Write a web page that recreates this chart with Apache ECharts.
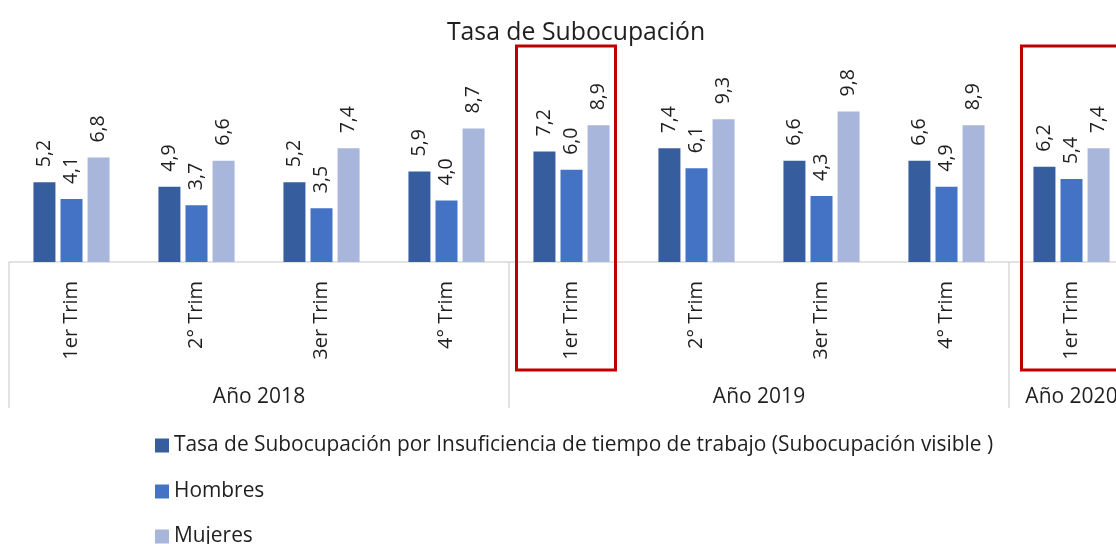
<!DOCTYPE html>
<html>
<head>
<meta charset="utf-8">
<script src="https://cdn.jsdelivr.net/npm/echarts@6/dist/echarts.min.js"></script>
<style>
  html, body { margin: 0; padding: 0; background: #fff; }
  #chart { width: 1116px; height: 544px; }
</style>
</head>
<body>
<div id="chart"></div>
<script>
const quarters = ['1er Trim', '2° Trim', '3er Trim', '4° Trim', '1er Trim', '2° Trim', '3er Trim', '4° Trim', '1er Trim'];
const years = ['Año 2018', 'Año 2019', 'Año 2020'];
const yearSpans = [4, 4, 1];
const seriesNames = [
  'Tasa de Subocupación por Insuficiencia de tiempo de trabajo (Subocupación visible )',
  'Hombres',
  'Mujeres',
];
const totalValues = [5.2, 4.9, 5.2, 5.9, 7.2, 7.4, 6.6, 6.6, 6.2];
const menValues = [4.1, 3.7, 3.5, 4.0, 6.0, 6.1, 4.3, 4.9, 5.4];
const womenValues = [6.8, 6.6, 7.4, 8.7, 8.9, 9.3, 9.8, 8.9, 7.4];
const highlighted = [4, 8]; // 1er Trim 2019, 1er Trim 2020

const COLORS = ['#365E9F', '#4472C4', '#A9B6DB'];
const FONT = '"Open Sans", "Noto Sans", sans-serif';
const TEXT = '#1f1f1f';
const GRID = { left: 9, top: 47, width: 1125, height: 215 };

const chart = echarts.init(document.getElementById('chart'));

function fmtComma(v) {
  return v.toFixed(1).replace('.', ',');
}

// second-level axis: group boundaries and centres on a 0..n value scale
const bounds = [0];
yearSpans.forEach((s) => bounds.push(bounds[bounds.length - 1] + s));
const centres = yearSpans.map((s, i) => bounds[i] + s / 2);
const yearByCentre = {};
centres.forEach((c, i) => { yearByCentre[c] = years[i]; });

function barSeries(name, data, color) {
  return {
    name,
    type: 'bar',
    data,
    barWidth: 22,
    barGap: '23%',
    itemStyle: { color },
    label: {
      show: true,
      position: 'top',
      rotate: 90,
      align: 'left',
      verticalAlign: 'middle',
      distance: 15,
      fontFamily: FONT,
      fontSize: 19.5,
      color: TEXT,
      formatter: (p) => fmtComma(p.value),
    },
  };
}

// one legend per row, stacked like the original
function legendRow(name, top) {
  return {
    data: [name],
    left: 155,
    top,
    padding: 0,
    itemWidth: 14,
    itemHeight: 14,
    itemGap: 0,
    icon: 'rect',
    textStyle: { fontFamily: FONT, fontSize: 20.9, color: TEXT },
  };
}

chart.setOption({
  animation: false,
  textStyle: { fontFamily: FONT },
  title: {
    text: 'Tasa de Subocupación',
    left: 571,
    top: 15,
    textAlign: 'center',
    textStyle: { fontFamily: FONT, fontSize: 24.8, fontWeight: 'normal', color: TEXT },
  },
  legend: [
    legendRow(seriesNames[0], 435),
    legendRow(seriesNames[1], 481),
    legendRow(seriesNames[2], 526),
  ],
  grid: { ...GRID, outerBoundsMode: 'none' },
  xAxis: [
    {
      type: 'category',
      data: quarters,
      axisLine: { lineStyle: { color: '#d9d9d9', width: 1.5 } },
      axisTick: { show: false },
      axisLabel: { rotate: 90, margin: 19, fontFamily: FONT, fontSize: 20, color: TEXT },
    },
    {
      type: 'value',
      min: 0,
      max: quarters.length,
      position: 'bottom',
      offset: 146,
      axisLine: { show: false },
      splitLine: { show: false },
      axisTick: {
        show: true,
        inside: true,
        length: 146,
        customValues: bounds,
        lineStyle: { color: '#d9d9d9', width: 1.5 },
      },
      axisLabel: {
        inside: true,
        margin: 0,
        customValues: centres,
        fontFamily: FONT,
        fontSize: 21,
        color: TEXT,
        formatter: (v) => yearByCentre[v] || '',
      },
    },
  ],
  yAxis: { type: 'value', min: 0, max: 14, show: false },
  series: [
    barSeries(seriesNames[0], totalValues, COLORS[0]),
    barSeries(seriesNames[1], menValues, COLORS[1]),
    barSeries(seriesNames[2], womenValues, COLORS[2]),
  ],
});

// red frames around selected quarters
function drawFrames() {
  const offsets = { 4: -55, 8: -50 };
  const top = GRID.top - 1;
  const bottom = 370;
  const elements = highlighted.map((idx) => {
    const cx = chart.convertToPixel({ xAxisIndex: 0 }, idx);
    return {
      type: 'rect',
      shape: { x: cx + offsets[idx], y: top, width: 99, height: bottom - top },
      style: { fill: 'none', stroke: '#C00000', lineWidth: 3 },
      z: 100,
    };
  });
  chart.setOption({ graphic: elements });
}
drawFrames();

window.addEventListener('resize', () => chart.resize());
</script>
</body>
</html>
